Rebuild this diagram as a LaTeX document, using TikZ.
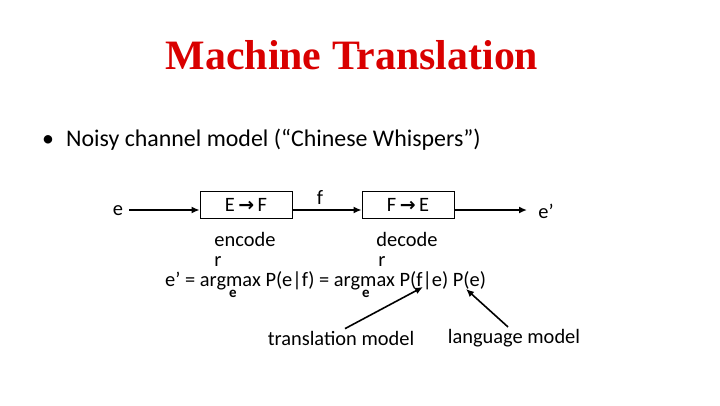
\documentclass[tikz,border=0pt]{standalone}
\usepackage{fontspec}
\setmainfont{Carlito}
\newfontfamily\titlefont{Liberation Serif}
\newfontfamily\djv{DejaVu Sans}
\usetikzlibrary{arrows.meta}
\begin{document}
\begin{tikzpicture}[x=1bp,y=-1bp,
  txt/.style={inner sep=0pt,font=\fontsize{20.5}{22}\selectfont},
  box/.style={draw,line width=0.8pt,minimum width=92bp,minimum height=27bp,inner sep=0pt,font=\fontsize{20.5}{22}\selectfont},
  arr/.style={line width=1.6pt,-{Latex[length=8bp,width=7bp]}}]
\useasboundingbox (0,0) rectangle (720,405);
\node[font=\titlefont\bfseries\fontsize{42}{46}\selectfont,text=red!85!black] (title) at (352,55) {Machine Translation};
\node[anchor=west,inner sep=0pt,font=\fontsize{24}{28}\selectfont] (bul) at (42,140) {\textbullet\hspace{12bp}Noisy channel model (“Chinese Whispers”)};
\node[txt] (e) at (118,211) {e};
\node[box] (b1) at (246,205) {E\,{\djv\bfseries\fontsize{19}{20}\selectfont→}\,F};
\node[box] (b2) at (408,205) {F\,{\djv\bfseries\fontsize{19}{20}\selectfont→}\,E};
\node[txt] (ep) at (546,211) {e’};
\node[txt] (f) at (320,197) {f};
\coordinate (o) at (527,210);
\draw[arr] (e.east)+(6,-1) -- (b1.west |- 0,210);
\draw[arr] (b1.east |- 0,210) -- (b2.west |- 0,210);
\draw[arr] (b2.east |- 0,210) -- (o);
\node[txt] (enc) at (245,239) {encode};
\node[txt] (r1) at (218,262) {r};
\node[txt] (dec) at (407,239) {decode};
\node[txt] (r2) at (382,262) {r};
\node[txt,anchor=west] (eq) at (165,281) {e’ = argmax P(e|f) = argmax P(f|e) P(e)};
\node[txt,font=\fontsize{15}{16}\selectfont\bfseries] (s1) at (233,294) {e};
\node[txt,font=\fontsize{15}{16}\selectfont\bfseries] (s2) at (366,294) {e};
\node[txt] (tm) at (341,338) {translation model};
\node[txt] (lm) at (514,338) {language model};
\coordinate (tt) at (423,287);
\coordinate (lt) at (466,289);
\draw[arr] (tm.north)+(4,-2) -- (tt);
\draw[arr] (lm.north)+(-6,-2) -- (lt);
\end{tikzpicture}
\end{document}
